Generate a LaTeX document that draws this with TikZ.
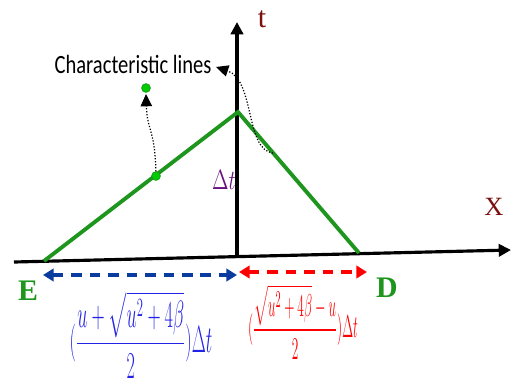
\documentclass[tikz,border=0pt]{standalone}
\usepackage{fontspec}
\usepackage{amsmath,amssymb}
\usepackage{tikz}
\usetikzlibrary{arrows.meta,positioning}
\newfontfamily\calib[FakeStretch=0.78]{Carlito}
\newfontfamily\timesf{Liberation Serif}
\definecolor{charline}{HTML}{1E961E}
\definecolor{leftspan}{HTML}{0A3CA0}
\definecolor{lefttext}{HTML}{2323E6}
\definecolor{rightspan}{HTML}{FF0000}
\definecolor{axislbl}{HTML}{7A1010}
\definecolor{dtlbl}{HTML}{6A1080}

\begin{document}
\begin{tikzpicture}[x=0.02cm,y=-0.02cm,
  axis/.style={black,line width=1.8pt},
  charl/.style={charline,line width=2.2pt},
  span/.style={line width=1.8pt,dash pattern=on 6pt off 4.5pt,{Triangle[length=6pt,width=7pt]}-{Triangle[length=6pt,width=7pt]}},
  pointer/.style={black,densely dotted,line width=0.7pt,-{Triangle[length=7pt,width=6.5pt]}},
  gdot/.style={circle,fill=green!80!black,draw=charline,line width=0.4pt,inner sep=0pt,minimum size=5pt}]
  \useasboundingbox (0,0) rectangle (511,387);

  % Axes
  \coordinate (xL) at (14,262);
  \coordinate (xR) at (511,250);
  \coordinate (O) at (237,256);
  \coordinate (tTop) at (237,22);
  \draw[axis,-{Triangle[length=7pt,width=7pt]}] (xL) -- (xR);
  \draw[axis,-{Triangle[length=7pt,width=7pt]}] (O) -- (tTop);
  \node[font=\timesf\fontsize{17}{17}\selectfont,axislbl] (tlbl) at (262,19) {t};
  \node[font=\timesf\fontsize{15}{15}\selectfont,axislbl] (xlbl) at (494,207) {X};

  % Characteristic lines
  \coordinate (E) at (44,261);
  \coordinate (P) at (238,112);
  \coordinate (D) at (359,253);
  \draw[charl] (E) -- (P) -- (D);
  \node[dtlbl] (dt) at (224,180) {\scalebox{0.8}[1.1]{\fontsize{14}{14}\selectfont$\Delta t$}};
  \node[font=\timesf\bfseries\fontsize{17}{17}\selectfont,charline] (Elbl) at (28,291) {E};
  \node[font=\timesf\bfseries\fontsize{17}{17}\selectfont,charline] (Dlbl) at (387,288) {D};

  % Pointers to the label
  \node[font=\calib\fontsize{15}{15}\selectfont] (chartxt) at (133,64) {Characteristic lines};
  \node[gdot] (dotA) at (156,176) {};
  \node[gdot] (dotB) at (146,88) {};
  \coordinate (tipA) at (146,94);
  \coordinate (onD) at (273,153);
  \coordinate (tipB) at (216,67);
  \draw[pointer] (dotA) .. controls (155,130) and (147,130) .. (tipA);
  \draw[pointer] (onD) .. controls (245,150) and (255,80) .. (tipB);

  % Spans
  \coordinate (sL) at (43,275);
  \coordinate (sM) at (237,275);
  \coordinate (rL) at (239,272);
  \coordinate (rR) at (367,272);
  \draw[span,leftspan] (sL) -- (sM);
  \draw[span,rightspan] (rL) -- (rR);
  \node[lefttext] (ltxt) at (141,335) {\scalebox{0.6}[1.25]{\fontsize{17}{17}\selectfont$(\dfrac{u+\sqrt{u^{2}+4\beta}}{2})\Delta t$}};
  \node[rightspan] (rtxt) at (303,322) {\scalebox{0.53}[1.25]{\fontsize{15}{15}\selectfont$(\dfrac{\sqrt{u^{2}+4\beta}-u}{2})\Delta t$}};
\end{tikzpicture}
\end{document}
